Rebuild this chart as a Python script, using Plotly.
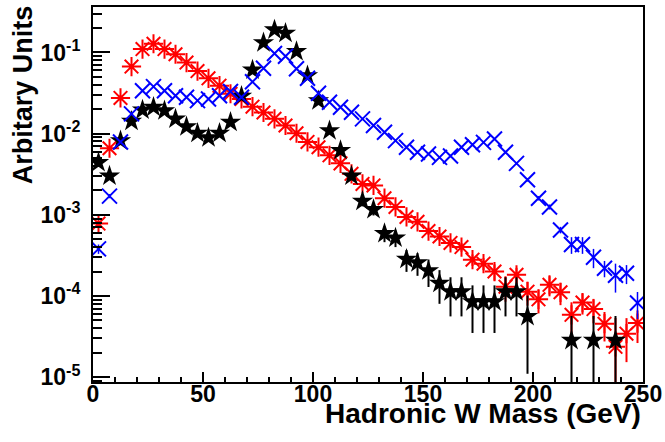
import plotly.graph_objects as go

# bin centres (GeV)
mass = [2.5, 7.5, 12.5, 17.5, 22.5, 27.5, 32.5, 37.5, 42.5, 47.5,
        52.5, 57.5, 62.5, 67.5, 72.5, 77.5, 82.5, 87.5, 92.5, 97.5,
        102.5, 107.5, 112.5, 117.5, 122.5, 127.5, 132.5, 137.5, 142.5, 147.5,
        152.5, 157.5, 162.5, 167.5, 172.5, 177.5, 182.5, 187.5, 192.5, 197.5,
        202.5, 207.5, 212.5, 217.5, 222.5, 227.5, 232.5, 237.5, 242.5, 247.5]

red_vals = [7.8e-4, 6.6e-3, 0.0275, 0.067, 0.11, 0.128, 0.11, 0.095, 0.075, 0.059,
            0.048, 0.039, 0.031, 0.0267, 0.0215, 0.0182, 0.0152, 0.0126, 0.0101, 0.0079,
            0.0068, 0.0054, 0.0043, 0.0032, 0.0024, 0.0023, 0.0016, 0.00125, 0.00094, 0.00082,
            0.00063, 0.00054, 0.00045, 0.00040, 0.00028, 0.00025, 0.00020, 0.00013, 0.000182, 0.000113,
            0.000091, 0.000137, 0.000111, 5.86e-5, 8.3e-5, 6.9e-5, 4.55e-5, 2.36e-5, 3.43e-5, 4.63e-5]
red_err = [6e-5, 2e-4, 4e-4, 6e-4, 8e-4, 8e-4, 8e-4, 7e-4, 6e-4, 6e-4,
           5e-4, 5e-4, 4e-4, 4e-4, 4e-4, 3e-4, 3e-4, 3e-4, 2.5e-4, 2.2e-4,
           2e-4, 1.8e-4, 1.6e-4, 1.4e-4, 1.2e-4, 1.2e-4, 1e-4, 9e-5, 8e-5, 7e-5,
           6.5e-5, 6e-5, 5.5e-5, 5e-5, 4.5e-5, 4.2e-5, 4.5e-5, 4.5e-5, 4e-5, 3.7e-5,
           3e-5, 3.8e-5, 3.4e-5, 2.5e-5, 2.4e-5, 2.3e-5, 1.8e-5, 3e-5, 1.9e-5, 2e-5]

blue_vals = [3.8e-4, 1.7e-3, 7.9e-3, 0.0175, 0.0338, 0.0379, 0.0338, 0.0293, 0.028, 0.0255,
             0.0267, 0.0293, 0.0331, 0.028, 0.0435, 0.064, 0.097, 0.09, 0.063, 0.048,
             0.0315, 0.0243, 0.0211, 0.0183, 0.0152, 0.0126, 0.0104, 0.0082, 0.0068, 0.0059,
             0.0056, 0.0051, 0.0053, 0.0068, 0.0073, 0.0078, 0.0086, 0.0059, 0.0043, 0.0027,
             0.0016, 0.00125, 0.00065, 0.00043, 0.00043, 0.0003, 0.00022, 0.00018, 0.00019, 8.2e-5]
blue_err = [5e-5, 1e-4, 2.2e-4, 3.2e-4, 4.5e-4, 4.8e-4, 4.5e-4, 4.2e-4, 4.1e-4, 3.9e-4,
            4e-4, 4.2e-4, 4.4e-4, 4.1e-4, 5e-4, 6.2e-4, 7.6e-4, 7.3e-4, 6.1e-4, 5.4e-4,
            4.4e-4, 3.8e-4, 3.6e-4, 3.3e-4, 3e-4, 2.8e-4, 2.5e-4, 2.2e-4, 2e-4, 1.9e-4,
            1.8e-4, 1.7e-4, 1.8e-4, 2e-4, 2.1e-4, 2.1e-4, 2.2e-4, 1.9e-4, 1.6e-4, 1.3e-4,
            1e-4, 9e-5, 6e-5, 1e-4, 1e-4, 8e-5, 5e-5, 7e-5, 5e-5, 3e-5]

black_vals = [0.0044, 0.003, 0.0082, 0.0142, 0.0196, 0.0211, 0.0192, 0.0152, 0.0122, 0.0101,
              0.0089, 0.0101, 0.0138, 0.029, 0.061, 0.132, 0.19, 0.173, 0.103, 0.0516,
              0.0255, 0.0109, 0.0062, 0.003, 0.00147, 0.00116, 0.00059, 0.00052, 0.000283, 0.000257,
              0.000205, 0.000144, 0.000113, 0.000113, 8.5e-5, 8.5e-5, 8.5e-5, 0.000113, 0.000113, 5.6e-5,
              None, None, None, 2.84e-5, None, 2.84e-5, None, 2.84e-5, None, None]
black_err = [3.5e-4, 3e-4, 4.8e-4, 6.3e-4, 7.5e-4, 7.7e-4, 7.4e-4, 6.6e-4, 5.9e-4, 5.4e-4,
             5e-4, 5.4e-4, 6.3e-4, 9e-4, 1.3e-3, 1.9e-3, 2.3e-3, 2.2e-3, 1.7e-3, 1.2e-3,
             8.5e-4, 5.6e-4, 4.2e-4, 2.9e-4, 2e-4, 1.8e-4, 1.3e-4, 1.2e-4, 8.5e-5, 8e-5,
             7.6e-5, 6.4e-5, 5.7e-5, 5.7e-5, 5e-5, 5e-5, 5e-5, 5.7e-5, 5.7e-5, 4.5e-5,
             None, None, None, 2.84e-5, None, 2.84e-5, None, 2.84e-5, None, None]

x_ticks = [0, 50, 100, 150, 200, 250]
y_ticks = [1e-5, 1e-4, 1e-3, 1e-2, 1e-1]
y_ticktext = ["10<sup>-5</sup>", "10<sup>-4</sup>", "10<sup>-3</sup>", "10<sup>-2</sup>", "10<sup>-1</sup>"]

y_minor = [m * 10.0 ** e for e in range(-6, 0) for m in range(2, 10)]

FONT = "Liberation Sans, Arial, Helvetica, sans-serif"

fig = go.Figure()

fig.add_trace(go.Scatter(
    x=mass, y=red_vals, mode="markers",
    marker=dict(symbol="asterisk-open", size=16, color="red",
                line=dict(color="red", width=2)),
    error_y=dict(type="data", array=red_err, color="red", thickness=2, width=0),
    showlegend=False))

fig.add_trace(go.Scatter(
    x=mass, y=black_vals, mode="markers",
    marker=dict(symbol="star", size=16, color="black",
                line=dict(color="black", width=0)),
    error_y=dict(type="data", array=black_err, color="black", thickness=2, width=0),
    showlegend=False))

fig.add_trace(go.Scatter(
    x=mass, y=blue_vals, mode="markers",
    marker=dict(symbol="x-thin-open", size=15, color="blue",
                line=dict(color="blue", width=2)),
    error_y=dict(type="data", array=blue_err, color="blue", thickness=1.5, width=0),
    showlegend=False))

fig.update_xaxes(
    range=[0, 250], tickvals=x_ticks, ticks="inside", ticklen=10, tickwidth=2,
    tickcolor="black", showline=True, linecolor="black", linewidth=2, mirror=True,
    showgrid=False, zeroline=False, ticklabelstandoff=-10,
    tickfont=dict(family=FONT, size=23, color="black", weight="bold"),
    minor=dict(ticks="inside", dtick=10, tick0=0, ticklen=5, tickwidth=2,
               tickcolor="black", showgrid=False))

fig.update_yaxes(
    type="log", range=[-5.06, -0.44], tickvals=y_ticks, ticktext=y_ticktext,
    ticks="inside", ticklen=17, tickwidth=2, tickcolor="black",
    showline=True, linecolor="black", linewidth=2, mirror=True,
    showgrid=False, zeroline=False, ticklabelstandoff=6,
    tickfont=dict(family=FONT, size=23, color="black", weight="bold"),
    minor=dict(ticks="inside", tickvals=y_minor, ticklen=9, tickwidth=2,
               tickcolor="black", showgrid=False))

fig.add_annotation(text="Hadronic W Mass (GeV)", xref="paper", yref="paper",
                   x=1.0, y=-0.085, xanchor="right", yanchor="middle", showarrow=False,
                   font=dict(family=FONT, size=28, color="black", weight="bold"))
fig.add_annotation(text="Arbitary Units", xref="paper", yref="paper",
                   x=-0.127, y=0.765, xanchor="center", yanchor="middle", textangle=-90,
                   showarrow=False,
                   font=dict(family=FONT, size=27, color="black", weight="bold"))

fig.update_layout(
    width=665, height=442,
    margin=dict(l=93, r=22, t=7, b=60, autoexpand=False),
    paper_bgcolor="white", plot_bgcolor="white")

fig.write_html("out.html", config={"displayModeBar": False},
               post_script="document.body.style.margin='0';document.body.style.overflow='hidden';")
